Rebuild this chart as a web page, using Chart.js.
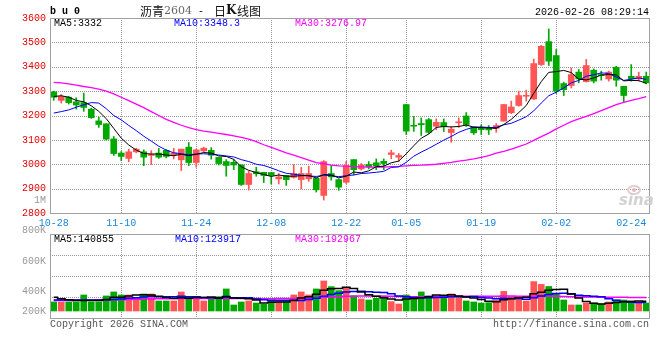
<!DOCTYPE html>
<html>
<head>
<meta charset="utf-8">
<script src="https://cdn.jsdelivr.net/npm/chart.js@4.4.1/dist/chart.umd.min.js"></script>
<style>
  body { margin: 0; background: #fff; }
  #wrap { position: relative; width: 660px; height: 360px; }
  #wrap canvas { position: absolute; left: 0; top: 0; }
</style>
</head>
<body>
<div id="wrap">
  <canvas id="kline" width="660" height="360"></canvas>
  <canvas id="vol" width="660" height="360"></canvas>
</div>
<script>
// trading days shown on the chart
const dates = [
  '10-28','10-29','10-30','10-31',
  '11-03','11-04','11-05','11-06','11-07',
  '11-10','11-11','11-12','11-13','11-14',
  '11-17','11-18','11-19','11-20','11-21',
  '11-24','11-25','11-26','11-27','11-28',
  '12-01','12-02','12-03','12-04','12-05',
  '12-08','12-09','12-10','12-11','12-12',
  '12-15','12-16','12-17','12-18','12-19',
  '12-22','12-23','12-24','12-25','12-26',
  '12-29','12-30','12-31',
  '01-05','01-06','01-07','01-08','01-09',
  '01-12','01-13','01-14','01-15','01-16',
  '01-19','01-20','01-21','01-22','01-23',
  '01-26','01-27','01-28','01-29','01-30',
  '02-02','02-03','02-04','02-05','02-06',
  '02-09','02-10','02-11','02-12','02-13',
  '02-24','02-25','02-26'
];

const opens = [3297,3262,3275,3256,3253,3226,3178,3166,3104,3046,
  3024,3051,3051,3036,3046,3057,3039,3018,3070,3007,
  3055,3057,3028,3011,3008,2997,2917,2969,2967,2966,
  2940,2954,2946,2937,2940,2942,2872,2962,2937,2926,
  3019,2981,2999,3006,3012,3040,3029,3245,3160,3167,
  3183,3156,3171,3130,3170,3198,3153,3149,3148,3148,
  3177,3211,3241,3279,3268,3409,3503,3446,3331,3323,
  3378,3339,3386,3368,3350,3398,3320,3361,3350,3361];
const highs = [3300,3286,3279,3273,3292,3230,3193,3166,3114,3052,
  3062,3066,3059,3056,3065,3060,3065,3062,3089,3062,
  3070,3068,3028,3019,3019,2997,2971,2988,2967,2966,
  2962,2954,2999,2987,2992,2944,3015,2995,2940,3012,
  3019,3003,3011,3022,3022,3058,3044,3245,3196,3190,
  3188,3186,3186,3155,3190,3212,3153,3162,3159,3167,
  3245,3259,3300,3304,3432,3488,3555,3471,3337,3395,
  3389,3430,3391,3382,3382,3402,3320,3409,3378,3378];
const lows = [3262,3251,3247,3226,3217,3188,3151,3100,3036,3015,
  3010,3047,2994,2999,3024,3026,3022,2974,2994,2988,
  3051,3021,2997,2951,2978,2913,2894,2951,2925,2919,
  2919,2913,2943,2899,2930,2886,2853,2935,2893,2921,
  2956,2976,2981,2978,2978,3023,3012,3122,3135,3118,
  3126,3142,3134,3090,3151,3155,3122,3122,3122,3131,
  3177,3208,3238,3259,3265,3405,3405,3290,3282,3313,
  3334,3337,3334,3345,3341,3320,3255,3341,3341,3330];
const closes = [3275,3278,3253,3243,3233,3191,3163,3103,3044,3032,
  3051,3062,3029,3038,3029,3032,3046,3062,3007,3059,
  3066,3037,3003,2995,2997,2917,2962,2961,2954,2954,
  2948,2937,2962,2962,2962,2895,3011,2948,2906,2995,
  2978,2997,2989,2992,3003,3047,3036,3136,3156,3162,
  3131,3172,3154,3144,3172,3163,3129,3142,3141,3159,
  3245,3235,3282,3282,3413,3484,3423,3300,3306,3368,
  3350,3405,3341,3364,3378,3345,3282,3350,3361,3334];

const ma5 = [3278,3281,3275,3262,3256,3240,3217,3187,3147,3107,
  3079,3058,3044,3042,3042,3038,3035,3041,3035,3041,
  3048,3046,3034,3032,3020,2990,2975,2966,2958,2950,
  2956,2951,2951,2953,2954,2944,2958,2956,2944,2951,
  2968,2965,2973,2990,2992,3006,3013,3043,3076,3107,
  3124,3151,3155,3153,3155,3161,3152,3150,3149,3147,
  3163,3184,3212,3241,3291,3339,3377,3380,3385,3376,
  3349,3346,3354,3366,3368,3367,3342,3344,3343,3332];
const ma10 = [3210,3216,3223,3234,3244,3253,3251,3228,3200,3182,
  3159,3138,3115,3095,3074,3058,3047,3043,3039,3042,
  3043,3041,3038,3034,3030,3019,3011,3000,2995,2985,
  2973,2963,2959,2955,2952,2950,2955,2953,2949,2953,
  2956,2962,2964,2967,2971,2987,2989,3008,3033,3050,
  3065,3082,3099,3114,3131,3143,3152,3153,3151,3151,
  3162,3168,3181,3195,3219,3251,3281,3296,3313,3334,
  3344,3361,3367,3375,3372,3358,3344,3349,3354,3348];
const ma30 = [3336,3334,3330,3325,3319,3314,3308,3300,3289,3275,
  3261,3247,3232,3216,3200,3184,3172,3160,3150,3142,
  3136,3132,3127,3122,3116,3110,3103,3093,3080,3069,
  3058,3047,3037,3027,3017,3007,3002,2996,2993,2992,
  2990,2989,2988,2988,2988,2990,2991,2993,2995,2996,
  2998,3000,3004,3008,3013,3017,3022,3028,3035,3046,
  3053,3062,3072,3083,3098,3113,3128,3145,3160,3175,
  3186,3196,3208,3220,3232,3245,3254,3262,3269,3277];

// volume, thousands of lots
const volume = [129,129,129,129,229,129,129,215,272,229,
  229,191,243,243,143,143,143,272,205,205,
  143,172,205,315,86,129,143,114,95,143,
  143,143,229,272,229,315,429,348,291,324,
  219,172,157,181,215,134,100,229,205,272,
  215,215,215,243,191,143,129,114,119,157,
  280,205,191,143,420,380,350,240,157,86,
  86,114,114,100,129,157,157,143,129,114];
const volMa5 = [196,175,160,150,149,149,149,166,195,195,
  215,227,233,227,210,193,183,189,181,194,
  194,199,186,208,184,181,176,157,113,125,
  128,128,151,186,203,238,295,319,322,341,
  322,271,233,211,189,172,157,172,177,188,
  204,227,224,232,216,201,184,164,139,132,
  160,175,190,195,248,268,297,307,309,243,
  184,137,111,100,109,123,131,137,143,141];
const volMa10 = [157,157,157,157,157,157,158,160,165,172,
  182,188,200,211,202,204,205,211,204,202,
  193,191,187,195,189,188,188,172,161,155,
  155,152,154,150,164,183,211,235,254,272,
  280,283,276,267,265,247,214,202,194,188,
  188,192,198,204,202,203,206,194,186,174,
  181,180,177,167,190,214,236,249,252,245,
  226,217,209,205,176,153,134,124,122,124];
const volMa30 = [150,150,151,152,153,155,156,158,160,162,
  165,167,170,172,174,175,176,177,178,178,
  178,178,178,179,178,178,177,177,176,176,
  177,178,180,183,186,190,195,200,205,210,
  212,213,213,212,211,209,207,206,205,205,
  206,207,208,209,210,210,210,211,211,212,
  213,213,212,211,212,213,213,210,207,203,
  201,200,199,198,197,196,195,194,194,193];

const shownDates = ['10-28','11-10','11-24','12-08','12-22','01-05','01-19','02-02','02-24'];
const gridDates = ['11-10','11-24','12-08','12-22','01-05','01-19','02-02'];
const priceMin = 2800, priceMax = 3600, priceStep = 100;
const volMin = -100, volMax = 1100, volStep = 300;
// sina prints its volume labels off the grid; these are the scale values they sit at
const volTickLabels = ['800K','600K','400K','200K'];
const volTickValues = [1155, 715, 285, 0];

const RED = '#ff5555', GREEN = '#00a800', DOT = '#999999';
const MONO = '"Liberation Mono", "DejaVu Sans Mono", monospace';

Chart.defaults.font.family = MONO;
Chart.defaults.font.size = 10;

const candleColor = c => closes[c.dataIndex] >= opens[c.dataIndex] ? RED : GREEN;
const noGrid = { display: false, drawTicks: false };

function maLine(data, color, extra) {
  return Object.assign({
    type: 'line', data: data, borderColor: color, borderWidth: 1,
    pointRadius: 0, tension: 0, fill: false, order: 0
  }, extra || {});
}

// dotted grid: horizontal at the value ticks, vertical at the labelled dates
function dottedGrid(yId) {
  return {
    id: 'dottedGrid',
    beforeDatasetsDraw(chart) {
      const { ctx, chartArea: a } = chart;
      const xs = chart.scales.x, ys = chart.scales[yId];
      ctx.save();
      ctx.strokeStyle = DOT;
      ctx.lineWidth = 1;
      ctx.setLineDash([1, 1]);
      ctx.beginPath();
      ys.ticks.forEach(t => {
        const y = Math.round(ys.getPixelForValue(t.value)) + 0.5;
        if (y <= a.top + 1 || y >= a.bottom - 1) return;
        ctx.moveTo(a.left, y);
        ctx.lineTo(a.right, y);
      });
      gridDates.forEach(d => {
        const x = Math.round(xs.getPixelForValue(dates.indexOf(d))) + 0.5;
        ctx.moveTo(x, a.top);
        ctx.lineTo(x, a.bottom);
      });
      ctx.stroke();
      ctx.restore();
    }
  };
}

// solid grey box round the plot area
const frame = {
  id: 'frame',
  afterDatasetsDraw(chart) {
    const { ctx, chartArea: a } = chart;
    ctx.save();
    ctx.strokeStyle = '#a0a0a0';
    ctx.lineWidth = 1;
    ctx.strokeRect(Math.round(a.left) + 0.5, Math.round(a.top) + 0.5,
      Math.round(a.right - a.left) - 1, Math.round(a.bottom - a.top));
    ctx.restore();
  }
};

const header = {
  id: 'header',
  afterDraw(chart) {
    const ctx = chart.ctx;
    ctx.save();
    ctx.textBaseline = 'middle';

    ctx.font = 'bold 10px ' + MONO;
    ctx.fillStyle = '#000';
    ctx.letterSpacing = '6px';
    ctx.fillText('bu0', 50, 11);
    ctx.letterSpacing = '0px';

    ctx.font = '12px "Noto Sans CJK SC"';
    ctx.fillStyle = '#111';
    ctx.fillText('沥青', 140, 11);
    ctx.font = '11px "DejaVu Serif"';
    ctx.fillStyle = '#666';
    ctx.fillText('2604', 164, 11);
    ctx.font = '10px ' + MONO;
    ctx.fillStyle = '#111';
    ctx.fillText('-', 198, 11);
    ctx.font = '12px "Noto Sans CJK SC"';
    ctx.fillText('日', 214, 11);
    ctx.font = 'bold 12px "DejaVu Serif"';
    ctx.fillText('K', 226, 11);
    ctx.font = '12px "Noto Sans CJK SC"';
    ctx.fillText('线图', 237, 11);

    ctx.font = '10px ' + MONO;
    ctx.fillStyle = '#000';
    ctx.textAlign = 'right';
    ctx.fillText('2026-02-26 08:29:14', 649, 12);
    ctx.fillStyle = '#999';
    ctx.fillText('1M', 46, 200);

    ctx.textAlign = 'left';
    ctx.fillStyle = '#000';
    ctx.fillText('MA5:3332', 54, 23.5);
    ctx.fillStyle = '#0000ff';
    ctx.fillText('MA10:3348.3', 174, 23.5);
    ctx.fillStyle = '#ff00ff';
    ctx.fillText('MA30:3276.97', 295, 23.5);

    // sina watermark
    ctx.strokeStyle = '#e2d0d0';
    ctx.lineWidth = 2;
    ctx.beginPath();
    ctx.ellipse(634, 190, 6, 4, 0, 0, Math.PI * 2);
    ctx.stroke();
    ctx.fillStyle = '#e8b8b8';
    ctx.beginPath();
    ctx.arc(634, 190, 2, 0, Math.PI * 2);
    ctx.fill();
    ctx.font = 'italic bold 15px "DejaVu Sans"';
    ctx.fillStyle = '#d2d2d2';
    ctx.textBaseline = 'alphabetic';
    ctx.fillText('sina', 619, 205);
    ctx.restore();
  }
};

const footer = {
  id: 'footer',
  afterDraw(chart) {
    const ctx = chart.ctx;
    ctx.save();
    ctx.font = '10px ' + MONO;
    ctx.textBaseline = 'middle';
    ctx.fillStyle = '#000';
    ctx.fillText('MA5:140855', 54, 239);
    ctx.fillStyle = '#0000ff';
    ctx.fillText('MA10:123917', 175, 239);
    ctx.fillStyle = '#ff00ff';
    ctx.fillText('MA30:192967', 295, 239);
    ctx.fillStyle = '#555';
    ctx.fillText('Copyright 2026 SINA.COM', 50, 324.5);
    ctx.textAlign = 'right';
    ctx.fillText('http://finance.sina.com.cn', 649, 324.5);
    ctx.restore();
  }
};

new Chart(document.getElementById('kline'), {
  type: 'bar',
  data: {
    labels: dates,
    datasets: [
      maLine(ma5, '#000000'),
      maLine(ma10, '#0000ff'),
      maLine(ma30, '#ff00ff', { borderWidth: 1.3 }),
      {
        data: dates.map((d, i) => [opens[i], closes[i]]),
        backgroundColor: candleColor,
        barThickness: 6, minBarLength: 1, grouped: false, order: 1
      },
      {
        data: dates.map((d, i) => [lows[i], highs[i]]),
        backgroundColor: candleColor,
        barThickness: 1, grouped: false, order: 2
      }
    ]
  },
  options: {
    responsive: false,
    animation: false,
    devicePixelRatio: 1,
    events: [],
    layout: { padding: { top: 18, right: 10, bottom: 130, left: 0 } },
    plugins: { legend: { display: false }, tooltip: { enabled: false } },
    scales: {
      x: {
        offset: true,
        grid: noGrid,
        border: { display: false },
        ticks: {
          autoSkip: false, maxRotation: 0, padding: 4, color: '#1a86d6',
          callback: (v, i) => shownDates.includes(dates[i]) ? dates[i] : ''
        },
        afterFit: s => { s.height = 17; }
      },
      y: {
        min: priceMin, max: priceMax,
        grid: noGrid,
        border: { display: false },
        ticks: { stepSize: priceStep, padding: 4, color: '#e60000', callback: v => v },
        afterFit: s => { s.width = 50; }
      }
    }
  },
  plugins: [dottedGrid('y'), frame, header]
});

new Chart(document.getElementById('vol'), {
  type: 'bar',
  data: {
    labels: dates,
    datasets: [
      maLine(volMa5, '#000000', { yAxisID: 'yv', stepped: 'middle', borderWidth: 1.5 }),
      maLine(volMa10, '#0000ff', { yAxisID: 'yv', stepped: 'middle', borderWidth: 1.5 }),
      maLine(volMa30, '#ff00ff', { yAxisID: 'yv', stepped: 'middle', borderWidth: 1.5 }),
      {
        data: volume, yAxisID: 'yv',
        backgroundColor: candleColor,
        barThickness: 6, grouped: false, order: 1
      }
    ]
  },
  options: {
    responsive: false,
    animation: false,
    devicePixelRatio: 1,
    events: [],
    layout: { padding: { top: 234, right: 0, bottom: 42, left: 0 } },
    plugins: { legend: { display: false }, tooltip: { enabled: false } },
    scales: {
      x: {
        offset: true,
        grid: noGrid,
        border: { display: false },
        ticks: { display: false },
        afterFit: s => { s.height = 0; }
      },
      yl: {
        position: 'left', min: volMin, max: volMax,
        grid: noGrid,
        border: { display: false },
        afterBuildTicks: s => { s.ticks = volTickValues.map(v => ({ value: v })); },
        ticks: { padding: 4, color: '#999', callback: (v, i) => volTickLabels[i] },
        afterFit: s => { s.width = 50; }
      },
      yv: {
        position: 'right', min: volMin, max: volMax,
        grid: noGrid,
        border: { display: false },
        ticks: { display: false, stepSize: volStep },
        afterFit: s => { s.width = 10; }
      }
    }
  },
  plugins: [dottedGrid('yv'), frame, footer]
});
</script>
</body>
</html>
